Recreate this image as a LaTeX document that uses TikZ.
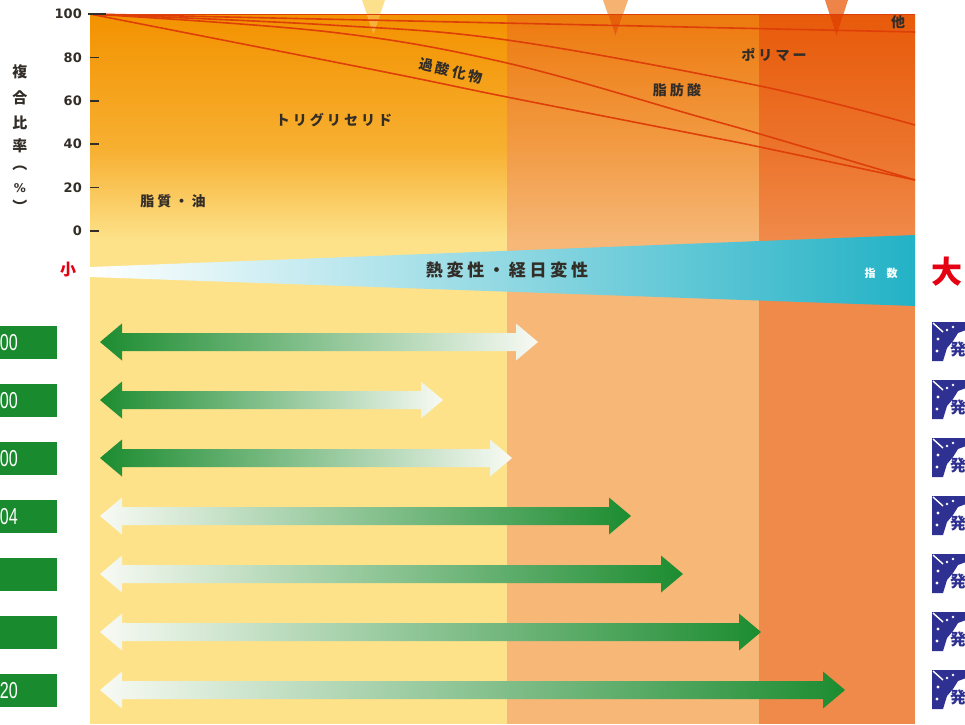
\documentclass[tikz,border=0pt]{standalone}
\usepackage{fontspec}
\newfontfamily\jp{Noto Sans CJK JP}
\newfontfamily\jpls{Noto Sans CJK JP}[LetterSpace=22]
\newfontfamily\dvs{DejaVu Sans}
\newfontfamily\libs{Liberation Sans}
\definecolor{c1top}{RGB}{243,146,0}
\definecolor{c1mid}{RGB}{247,176,50}
\definecolor{c1bot}{RGB}{253,226,138}
\definecolor{c2top}{RGB}{237,122,14}
\definecolor{c2mid}{RGB}{242,156,70}
\definecolor{c2bot}{RGB}{246,183,119}
\definecolor{c3top}{RGB}{232,90,10}
\definecolor{c3mid}{RGB}{236,116,44}
\definecolor{c3bot}{RGB}{240,138,74}
\definecolor{curvec}{RGB}{222,62,8}
\definecolor{tealc}{RGB}{35,178,198}
\definecolor{gdark}{RGB}{28,140,48}
\definecolor{gwhite}{RGB}{248,250,244}
\definecolor{boxg}{RGB}{26,138,46}
\definecolor{iconb}{RGB}{46,48,146}
\definecolor{txtc}{RGB}{51,45,40}
\definecolor{redt}{RGB}{228,0,18}
\newcommand{\dblarr}[4]{%
  \shade[left color=#3,right color=#4]
    (100,#1) -- (122,#1-18.5) -- (122,#1-9) -- (#2-22,#1-9) -- (#2-22,#1-18.5)
    -- (#2,#1) -- (#2-22,#1+18.5) -- (#2-22,#1+9) -- (122,#1+9) -- (122,#1+18.5) -- cycle;}
\begin{document}
\begin{tikzpicture}[x=1pt,y=-1pt,
  lbl/.style={font=\fontsize{14}{14}\jpls\bfseries, text=txtc, inner sep=0pt},
  ticklbl/.style={font=\fontsize{13}{13}\dvs\bfseries, text=txtc, inner sep=0pt, anchor=east},
  ytitle/.style={font=\fontsize{15}{15}\jp\bfseries, text=txtc, inner sep=0pt},
  curve/.style={draw=curvec, line width=1.6pt},
  tick/.style={draw=txtc, line width=1.6pt},
  gbox/.style={fill=boxg, draw=none},
  boxtxt/.style={font=\fontsize{23}{23}\libs, text=white, inner sep=0pt, anchor=base east, xscale=0.7},
  icon/.style={fill=iconb},
  tri/.style={draw=none}]
\useasboundingbox (0,0) rectangle (965,724);
\fill[white] (0,0) rectangle (965,724);
% background columns
\shade[top color=c1top, bottom color=c1mid] (90,14) rectangle (507,150.5);
\shade[top color=c1mid, bottom color=c1bot] (90,150) rectangle (507,240);
\shade[top color=c2top, bottom color=c2mid] (507,14) rectangle (759,150.5);
\shade[top color=c2mid, bottom color=c2bot] (507,150) rectangle (759,240);
\shade[top color=c3top, bottom color=c3mid] (759,14) rectangle (915,150.5);
\shade[top color=c3mid, bottom color=c3bot] (759,150) rectangle (915,240);
\fill[c1bot] (90,239.5) rectangle (507,724);
\fill[c2bot] (507,239.5) rectangle (759,724);
\fill[c3bot] (759,239.5) rectangle (915,724);
% triangles at top
\fill[tri, fill={rgb,255:red,253;green,224;blue,140}] (362,0) -- (385,0) -- (373.5,33) -- cycle;
\fill[tri, fill={rgb,255:red,246;green,178;blue,112}] (603,0) -- (628,0) -- (615.5,36) -- cycle;
\fill[tri, fill={rgb,255:red,239;green,132;blue,72}] (825,0) -- (848,0) -- (836.5,36) -- cycle;
\begin{scope}
  \clip (90,14) rectangle (915,240);
  \fill[tri, fill={rgb,255:red,248;green,178;blue,60}] (362,0) -- (385,0) -- (373.5,33) -- cycle;
  \fill[tri, fill={rgb,255:red,230;green,96;blue,10}] (603,0) -- (628,0) -- (615.5,36) -- cycle;
  \fill[tri, fill={rgb,255:red,224;green,70;blue,4}] (825,0) -- (848,0) -- (836.5,36) -- cycle;
\end{scope}
% curves
\draw[curve] (90,14.5) -- (915,14.5);
\draw[curve] (90,14) -- (915,32);
\draw[curve] plot[smooth, tension=0.6] coordinates {(90,14) (330,25) (507,40) (760,86) (915,125)};
\draw[curve] plot[smooth, tension=0.6] coordinates {(90,14) (330,32) (507,63) (700,117) (760,134) (915,180)};
\draw[curve] plot[smooth, tension=0.6] coordinates {(90,14) (380,71) (507,97) (700,135) (760,147) (915,180)};
% axis ticks and labels
\draw[tick] (88,14) -- (106,14);
\foreach \v in {0,20,40,60,80} {
  \draw[tick] (90,{231-\v*2.17}) -- (99,{231-\v*2.17});
}
\foreach \v in {0,20,40,60,80,100} {
  \node[ticklbl] (tl\v) at (82,{231-\v*2.17}) {\v};
}
% y title
\node[ytitle] (yt1) at (20,72) {複};
\node[ytitle] (yt2) at (20,98) {合};
\node[ytitle] (yt3) at (20,123) {比};
\node[ytitle] (yt4) at (20,146) {率};
\node[ytitle] (yt5) at (20,168) {︵};
\node[ytitle] (yt6) at (20,188) {\dvs\fontsize{12}{12}\selectfont\bfseries\%};
\node[ytitle] (yt7) at (20,206) {︶};
% region labels
\node[lbl] (lipid) at (173,201) {脂質・油};
\node[lbl] (tg) at (334,120) {トリグリセリド};
\node[lbl, rotate=-13] (perox) at (451,71) {過酸化物};
\node[lbl] (fa) at (677,90) {脂肪酸};
\node[lbl] (poly) at (774,55) {ポリマー};
\node[lbl] (other) at (898,22) {他};
% blue wedge
\shade[left color=white, right color=tealc] (90,267) -- (915,235) -- (915,306) -- (90,277) -- cycle;
\node[font=\fontsize{17}{17}\jpls\bfseries, text=txtc, inner sep=0pt] (heat) at (507,270) {熱変性・経日変性};
\node[font=\fontsize{11}{11}\jp\bfseries, text=white, inner sep=0pt] (idx) at (881,273) {指\hspace{11pt}数};
\node[font=\fontsize{16}{16}\jp\bfseries, text=redt, inner sep=0pt] (small) at (68,270) {小};
\node[font=\fontsize{31}{31}\jp\bfseries, text=redt, inner sep=0pt] (big) at (947,272) {大};
% arrows
\dblarr{342}{538}{gdark}{gwhite}
\dblarr{400}{443}{gdark}{gwhite}
\dblarr{458}{512}{gdark}{gwhite}
\dblarr{516}{631}{gwhite}{gdark}
\dblarr{574}{683}{gwhite}{gdark}
\dblarr{632}{761}{gwhite}{gdark}
\dblarr{690}{845}{gwhite}{gdark}
% green boxes
\foreach \yc/\t/\n in {342/00/b1, 400/00/b2, 458/00/b3, 516/04/b4, 574//b5, 632//b6, 690/20/b7} {
  \fill[gbox] (-5,\yc-16.5) rectangle (57,\yc+16.5);
  \node[boxtxt] (\n) at (18,\yc+8.5) {\t};
}
% icons
\foreach \yc/\n in {342/i1, 400/i2, 458/i3, 516/i4, 574/i5, 632/i6, 690/i7} {
  \fill[icon] (932,\yc-20) -- (966,\yc-20) -- (966,\yc-12) -- (958,\yc-9) -- (953,\yc-1)
     -- (947,\yc+6) -- (943,\yc+19) -- (932,\yc+19) -- cycle;
  \draw[white, line width=1.4pt] (933,\yc-19) -- (943,\yc-10);
  \fill[white] (938,\yc-3) circle (1.6) (937,\yc+9) circle (1.6) (947,\yc-12) circle (1.4) (953,\yc-15) circle (1.3);
  \node[font=\fontsize{16}{16}\jp\bfseries, text=iconb, inner sep=0pt, anchor=west] (\n) at (950,\yc+7) {発};
}
\end{tikzpicture}
\end{document}
